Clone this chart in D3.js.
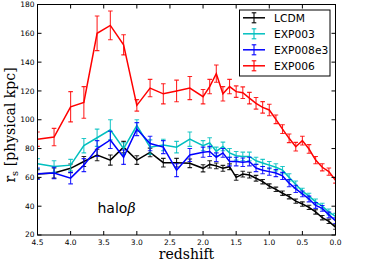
<!DOCTYPE html>
<html>
<head>
<meta charset="utf-8">
<script src="https://cdn.jsdelivr.net/npm/d3@7"></script>
<style>
  body { margin: 0; background: #fff; }
  svg { display: block; }
</style>
</head>
<body>
<div id="chart"></div>
<script>
// redshift snapshots
var redshift = [4.5, 4.25, 4.0, 3.8, 3.6, 3.4, 3.2, 3.0, 2.8, 2.6, 2.4, 2.2, 2.0,
  1.9, 1.8, 1.7, 1.6, 1.5, 1.4, 1.3, 1.2, 1.1, 1.0, 0.9, 0.8, 0.7, 0.6, 0.5, 0.4, 0.3, 0.2, 0.1, 0.0];

var lcdm = [62.3, 63, 66.3, 71, 75.5, 72, 81, 72, 77.3, 70.2, 70.2, 69.8, 66.3,
  69, 68, 66.3, 67.4, 60, 62.3, 61.6, 59.4, 57, 54, 51.7, 49, 46.6, 43.5, 41.5, 39.2, 36, 32, 29.5, 25.5];
var lcdmErr = [3, 3.5, 3, 3.5, 4, 3.5, 4, 3, 3, 3, 3, 3, 2.5,
  2.5, 2, 2, 2, 2, 2, 2, 2, 1.5, 1.5, 1.5, 1.5, 1.5, 1.5, 1.5, 1.5, 1.5, 1.5, 1.5, 1.5];

var exp003 = [69.5, 67.5, 68.5, 82, 87.5, 93, 80, 96, 81, 82.5, 81, 86.5, 82,
  84, 78, 81.5, 77, 75, 74.5, 74.5, 71.5, 70, 68.5, 67, 65, 60, 55, 50.5, 47, 43, 40, 36, 33];
var exp003Err = [3.5, 4, 4, 5, 6, 7, 4, 4, 5, 4, 4, 5, 3.5,
  3.5, 3, 3, 3, 3, 3, 3, 2.5, 2.5, 2.5, 2.5, 2.5, 2.5, 2.5, 2, 2, 2, 2, 2, 2];

var exp008e3 = [62.5, 63, 59.5, 68.5, 80, 86, 74, 93.5, 83.5, 81, 65, 75.5, 77.5,
  78, 74, 77, 71, 71, 70.5, 71, 66.5, 65, 64, 63, 61, 56, 52, 48.5, 45, 40.5, 38.5, 34, 30];
var exp008e3Err = [4, 4, 4, 4.5, 5.5, 6, 5, 4.5, 5, 4.5, 4.5, 4.5, 3.5,
  3.5, 3, 3, 3, 3, 3, 3, 2.5, 2.5, 2.5, 2.5, 2.5, 2.5, 2.5, 2, 2, 2, 2, 2, 2];

var exp006 = [86.5, 88, 109, 112, 160, 165.5, 152, 110, 122, 118, 120, 122, 116,
  123, 132, 118, 123, 119.5, 118.8, 115, 111.4, 108.6, 106.8, 100.3, 93.5, 87.1, 81.3, 85.5, 79.7, 72, 67, 64, 58];
var exp006Err = [5, 6, 10.5, 11, 12, 10, 7, 4, 6, 7, 7.5, 8, 5,
  5, 6, 5, 5, 4, 4, 4, 4, 4, 4, 3, 3, 3, 3, 3, 3, 2.5, 2.5, 2.5, 2];

var seriesNames = ["LCDM", "EXP003", "EXP008e3", "EXP006"];
var seriesColors = ["#000000", "#00bfbf", "#0000ff", "#ff0000"];
var seriesValues = [lcdm, exp003, exp008e3, exp006];
var seriesErrors = [lcdmErr, exp003Err, exp008e3Err, exp006Err];

var xTicks = [4.5, 4.0, 3.5, 3.0, 2.5, 2.0, 1.5, 1.0, 0.5, 0.0];
var yTicks = [20, 40, 60, 80, 100, 120, 140, 160, 180];

var W = 374, H = 263;
var padL = 37.5, padR = 335.5, padT = 4.5, padB = 235;

var svg = d3.select("#chart").append("svg")
  .attr("width", W).attr("height", H);

var x = d3.scaleLinear().domain([4.5, 0]).range([padL, padR]);
var y = d3.scaleLinear().domain([20, 180]).range([padB, padT]);

svg.append("clipPath").attr("id", "clip")
  .append("rect").attr("x", padL).attr("y", padT)
  .attr("width", padR - padL).attr("height", padB - padT);

var plot = svg.append("g").attr("clip-path", "url(#clip)");

seriesValues.forEach(function(vals, k) {
  var col = seriesColors[k];
  var errs = seriesErrors[k];
  var pts = redshift.map(function(z, i) { return {z: z, v: vals[i], e: errs[i]}; });
  var g = plot.append("g");

  g.append("path")
    .datum(pts)
    .attr("fill", "none")
    .attr("stroke", col)
    .attr("stroke-width", 1.5)
    .attr("d", d3.line().x(d => x(d.z)).y(d => y(d.v)));

  var eb = g.selectAll("g.eb").data(pts).enter().append("g")
    .attr("stroke", col).attr("stroke-width", 1.1).attr("stroke-opacity", 0.85);
  eb.append("line")
    .attr("x1", d => x(d.z)).attr("x2", d => x(d.z))
    .attr("y1", d => y(d.v - d.e)).attr("y2", d => y(d.v + d.e));
  eb.append("line")
    .attr("x1", d => x(d.z) - 2.3).attr("x2", d => x(d.z) + 2.3)
    .attr("y1", d => y(d.v - d.e)).attr("y2", d => y(d.v - d.e));
  eb.append("line")
    .attr("x1", d => x(d.z) - 2.3).attr("x2", d => x(d.z) + 2.3)
    .attr("y1", d => y(d.v + d.e)).attr("y2", d => y(d.v + d.e));
});

// frame and inward ticks
var frame = svg.append("g").attr("stroke", "#000").attr("stroke-width", 1);
frame.append("rect")
  .attr("x", padL).attr("y", padT)
  .attr("width", padR - padL).attr("height", padB - padT)
  .attr("fill", "none");

xTicks.forEach(function(t) {
  frame.append("line").attr("x1", x(t)).attr("x2", x(t)).attr("y1", padB).attr("y2", padB - 4);
  frame.append("line").attr("x1", x(t)).attr("x2", x(t)).attr("y1", padT).attr("y2", padT + 4);
});
yTicks.forEach(function(t) {
  frame.append("line").attr("x1", padL).attr("x2", padL + 4).attr("y1", y(t)).attr("y2", y(t));
  frame.append("line").attr("x1", padR).attr("x2", padR - 4).attr("y1", y(t)).attr("y2", y(t));
});

svg.append("g").selectAll("text").data(xTicks).enter().append("text")
  .attr("x", d => x(d)).attr("y", padB + 9.5)
  .attr("text-anchor", "middle")
  .attr("font-family", "DejaVu Sans").attr("font-size", 7.5)
  .text(d => d.toFixed(1));

svg.append("g").selectAll("text").data(yTicks).enter().append("text")
  .attr("x", padL - 3).attr("y", d => y(d) + 2.7 - (d === 20 ? 1 : 0))
  .attr("text-anchor", "end")
  .attr("font-family", "DejaVu Sans").attr("font-size", 7.5)
  .text(d => d);

// axis titles
svg.append("text")
  .attr("x", (padL + padR) / 2).attr("y", 258.5)
  .attr("text-anchor", "middle")
  .attr("font-family", "DejaVu Serif").attr("font-size", 14)
  .text("redshift");

var yl = svg.append("text")
  .attr("transform", "translate(15," + 125 + ") rotate(-90)")
  .attr("text-anchor", "middle")
  .attr("font-family", "DejaVu Serif").attr("font-size", 14);
yl.append("tspan").text("r");
yl.append("tspan").attr("font-size", 10).attr("dy", 3).text("s");
yl.append("tspan").attr("dy", -3).text(" [physical kpc]");

// halo label
var hl = svg.append("text")
  .attr("x", 97.5).attr("y", 212.5)
  .attr("font-family", "DejaVu Sans").attr("font-size", 14);
hl.append("tspan").text("halo");
hl.append("tspan").attr("font-family", "DejaVu Serif").attr("font-style", "italic").text("β");

// legend
var lg = svg.append("g");
lg.append("rect")
  .attr("x", 239.5).attr("y", 10).attr("width", 90.5).attr("height", 66)
  .attr("fill", "#fff").attr("stroke", "#000").attr("stroke-width", 1);
seriesNames.forEach(function(name, k) {
  var ly = 17.8 + k * 16;
  var row = lg.append("g").attr("stroke", seriesColors[k]);
  row.append("line").attr("x1", 243).attr("x2", 265).attr("y1", ly).attr("y2", ly).attr("stroke-width", 1.5);
  row.append("line").attr("x1", 254).attr("x2", 254).attr("y1", ly - 5).attr("y2", ly + 5).attr("stroke-width", 1.1);
  row.append("line").attr("x1", 251.7).attr("x2", 256.3).attr("y1", ly - 5).attr("y2", ly - 5).attr("stroke-width", 1.1);
  row.append("line").attr("x1", 251.7).attr("x2", 256.3).attr("y1", ly + 5).attr("y2", ly + 5).attr("stroke-width", 1.1);
  lg.append("text")
    .attr("x", 274).attr("y", ly + 3.8)
    .attr("font-family", "DejaVu Sans").attr("font-size", 10.7)
    .text(name);
});
</script>
</body>
</html>
